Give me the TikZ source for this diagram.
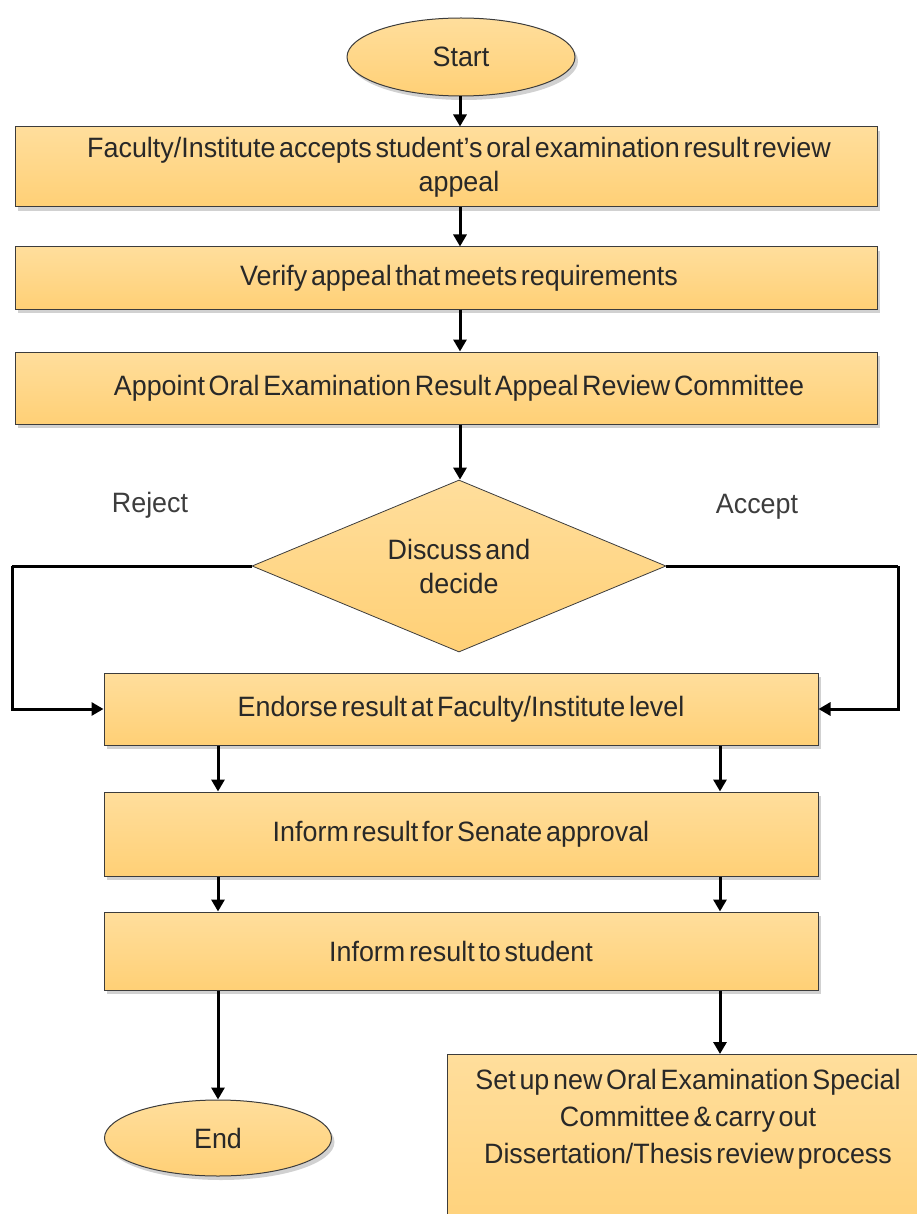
\documentclass[tikz,border=0pt]{standalone}
\usepackage{fontspec}
\setmainfont{Liberation Sans}[FakeStretch=0.96, WordSpace=0.5]
\usetikzlibrary{shapes.geometric,arrows.meta,shadows}
\definecolor{boxtop}{RGB}{255,222,156}
\definecolor{boxbot}{RGB}{255,208,118}
\definecolor{edgegray}{RGB}{60,60,60}
\definecolor{inkgray}{RGB}{40,40,40}
% pushes a centred line a little to the right
\newcommand{\nudge}{\hspace*{26pt}}
\begin{document}
\begin{tikzpicture}[x=1pt,y=-1pt,
  txt/.style={font=\fontsize{28}{34}\selectfont, text=inkgray},
  shade/.style={drop shadow={shadow xshift=3pt, shadow yshift=-4pt, opacity=0.3, fill=black!60}},
  flowbox/.style={draw=edgegray, line width=1pt, top color=boxtop, bottom color=boxbot,
    rectangle, inner sep=0pt, txt, align=center, shade},
  terminal/.style={flowbox, ellipse},
  decision/.style={draw=edgegray, line width=0.8pt, top color=boxtop, bottom color=boxbot,
    diamond, aspect=2.4, inner sep=0pt, txt, align=center},
  arr/.style={line width=3pt, -{Triangle[length=12pt,width=13pt]}},
  link/.style={line width=3pt},
  tag/.style={txt, text=inkgray!90}
]
\useasboundingbox (0,0) rectangle (917,1214);
\clip (0,0) rectangle (917,1214);

% steps, top to bottom
\node[terminal, minimum width=228pt, minimum height=78pt] (start) at (461,57) {Start};
\node[flowbox, minimum width=862pt, minimum height=80pt] (b1) at (446,167)
  {\nudge Faculty/Institute accepts student’s oral examination result review\\\nudge appeal};
\node[flowbox, minimum width=862pt, minimum height=62pt] (b2) at (446,278)
  {\nudge Verify appeal that meets requirements};
\node[flowbox, minimum width=862pt, minimum height=72pt] (b3) at (446,388)
  {\nudge Appoint Oral Examination Result Appeal Review Committee};
\node[decision, minimum width=414pt, minimum height=172pt] (dec) at (459,566)
  {Discuss and\\decide};
\node[flowbox, minimum width=714pt, minimum height=72pt] (b4) at (461,709)
  {Endorse result at Faculty/Institute level};
\node[flowbox, minimum width=714pt, minimum height=84pt] (b5) at (461,834)
  {Inform result for Senate approval};
\node[flowbox, minimum width=714pt, minimum height=78pt] (b6) at (461,951)
  {Inform result to student};
\node[terminal, minimum width=227pt, minimum height=76pt] (end) at (218,1138) {End};
\node[flowbox, minimum width=482pt, minimum height=200pt, anchor=north,
  label={[font=\fontsize{28}{37}\selectfont, text=inkgray, anchor=north, align=center, yshift=-12pt]north:Set up new Oral Examination Special\\Committee \& carry out\\Dissertation/Thesis review process}]
  (b7) at (688,1054) {};

% branch labels
\node[tag] (rej) at (150,505) {Reject};
\node[tag] (acc) at (757,507) {Accept};

% columns used by the arrows
\coordinate (colM) at (460,0);
\coordinate (colL) at (218,0);
\coordinate (colR) at (720,0);
\coordinate (turnL) at (12,566);
\coordinate (turnR) at (898,566);

% main flow
\draw[arr] (start.south -| colM) -- (b1.north -| colM);
\draw[arr] (b1.south -| colM) -- (b2.north -| colM);
\draw[arr] (b2.south -| colM) -- (b3.north -| colM);
\draw[arr] (b3.south -| colM) -- (dec.north -| colM);
\draw[link] (dec.west) -- (turnL);
\draw[arr] (turnL) |- (b4.west);
\draw[link] (dec.east) -- (turnR);
\draw[arr] (turnR) |- (b4.east);

\draw[arr] (b4.south -| colL) -- (b5.north -| colL);
\draw[arr] (b4.south -| colR) -- (b5.north -| colR);
\draw[arr] (b5.south -| colL) -- (b6.north -| colL);
\draw[arr] (b5.south -| colR) -- (b6.north -| colR);
\draw[arr] (b6.south -| colL) -- (end.north);
\draw[arr] (b6.south -| colR) -- (b7.north -| colR);
\end{tikzpicture}
\end{document}
